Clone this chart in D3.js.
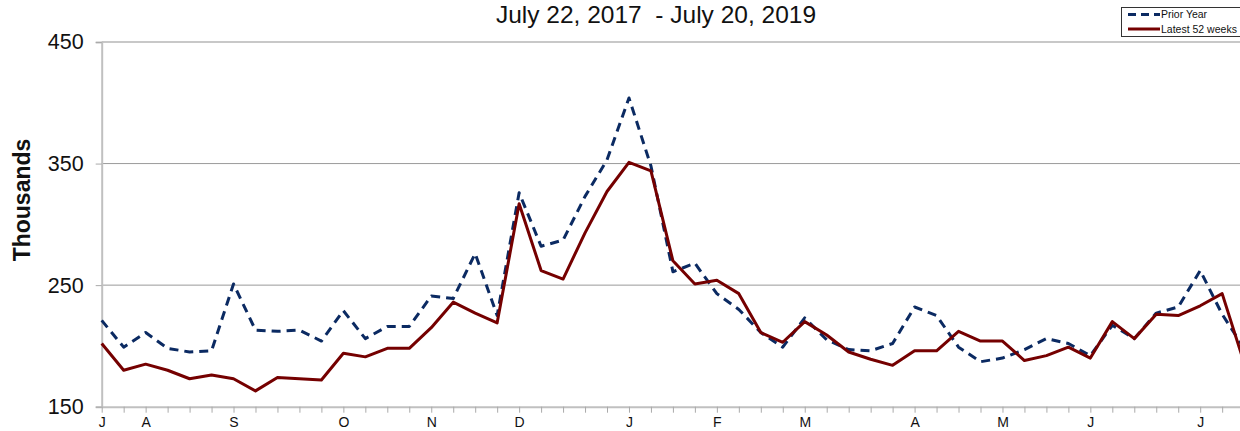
<!DOCTYPE html>
<html>
<head>
<meta charset="utf-8">
<script src="https://cdn.jsdelivr.net/npm/d3@7"></script>
<style>
  body { margin: 0; background: #fff; }
  svg { display: block; font-family: "Liberation Sans", Arial, sans-serif; }
</style>
</head>
<body>
<svg id="chart"></svg>
<script>
let width = 1240;
let height = 431;

// weekly values, thousands
let weekLabels = ["J","","A","","","","S","","","","","O","","","","N","","","","D","","","","","J","","","","F","","","","M","","","","","A","","","","M","","","","J","","","","","J","",""];
let priorYear = [221,199,211,198,195,196,251,213,212,213,204,229,206,216,216,241,239,276,225,326,282,287,323,353,404,348,261,268,243,230,211,199,223,205,197,196,202,232,225,199,187,190,197,206,202,192,217,206,227,232,262,226,198];
let latest52 = [202,180,185,180,173,176,173,163,174,173,172,194,191,198,198,215,236,227,219,317,262,255,293,327,351,344,270,251,254,243,211,203,220,209,195,189,184,196,196,212,204,204,188,192,199,190,220,206,226,225,233,243,186];
let yTicks = [150, 250, 350, 450];

let margin = { top: 42, bottom: 24, left: 101.7 };

let svg = d3.select("#chart")
  .attr("width", width)
  .attr("height", height);

let x = d3.scaleLinear()
  .domain([0, weekLabels.length - 1])
  .range([margin.left, margin.left + 21.97 * (weekLabels.length - 1)]);

let y = d3.scaleLinear()
  .domain([150, 450])
  .range([height - margin.bottom - 0.3, margin.top]);

// gridlines
svg.append("g")
  .selectAll("line")
  .data(yTicks.slice(1))
  .enter()
  .append("line")
    .attr("x1", margin.left)
    .attr("x2", width)
    .attr("y1", d => y(d))
    .attr("y2", d => y(d))
    .attr("stroke", d => d === 450 ? "#c8c8c8" : "#9a9a9a")
    .attr("stroke-width", d => d === 450 ? 2 : 1);

// y axis
svg.append("g")
  .attr("transform", `translate(${margin.left},0)`)
  .call(d3.axisLeft(y).tickValues(yTicks).tickSize(6).tickPadding(12))
  .call(g => g.select(".domain").attr("stroke", "#c0c0c0").attr("stroke-width", 2))
  .call(g => g.selectAll(".tick line").attr("stroke", "#aaa"))
  .call(g => g.selectAll(".tick text")
    .attr("font-size", 21.5)
    .attr("fill", "#111")
    .attr("font-family", "Liberation Sans, Arial, sans-serif"));

// x axis
svg.append("g")
  .attr("transform", `translate(0,${y(150)})`)
  .call(d3.axisBottom(x).tickValues(d3.range(weekLabels.length)).tickFormat(i => weekLabels[i]).tickSize(6).tickSizeOuter(0).tickPadding(4))
  .call(g => g.select(".domain").attr("stroke", "#c0c0c0").attr("stroke-width", 2))
  .call(g => g.selectAll(".tick line").attr("stroke", "#aaa"))
  .call(g => g.selectAll(".tick text")
    .attr("font-size", 14)
    .attr("fill", "#111")
    .attr("font-family", "Liberation Sans, Arial, sans-serif"));

let line = d3.line()
  .x((d, i) => x(i))
  .y(d => y(d));

svg.append("path")
  .datum(priorYear)
  .attr("fill", "none")
  .attr("stroke", "#0b2a62")
  .attr("stroke-width", 3)
  .attr("stroke-dasharray", "9,6")
  .attr("stroke-linejoin", "round")
  .attr("d", line);

svg.append("path")
  .datum(latest52)
  .attr("fill", "none")
  .attr("stroke", "#750000")
  .attr("stroke-width", 3)
  .attr("stroke-linejoin", "round")
  .attr("d", line);

// title
svg.append("text")
  .attr("x", 656)
  .attr("y", 23)
  .attr("text-anchor", "middle")
  .attr("font-size", 24.5)
  .attr("fill", "#111")
  .attr("xml:space", "preserve")
  .text("July 22, 2017  - July 20, 2019");

// y label
svg.append("text")
  .attr("transform", "translate(30,200) rotate(-90)")
  .attr("text-anchor", "middle")
  .attr("font-size", 23)
  .attr("font-weight", "bold")
  .attr("fill", "#111")
  .text("Thousands");

// legend
let legend = svg.append("g").attr("transform", "translate(1121,7)");
legend.append("rect")
  .attr("x", 0.5).attr("y", 0.5)
  .attr("width", 130).attr("height", 29)
  .attr("fill", "#fff")
  .attr("stroke", "#333")
  .attr("stroke-width", 1);

let legendItems = [
  { name: "Prior Year", color: "#0b2a62", dash: "8,5" },
  { name: "Latest 52 weeks", color: "#750000", dash: null }
];

legendItems.forEach((item, i) => {
  let row = legend.append("g").attr("transform", `translate(0,${7.5 + i * 14.5})`);
  row.append("line")
    .attr("x1", 7).attr("x2", 39)
    .attr("stroke", item.color)
    .attr("stroke-width", 3)
    .attr("stroke-dasharray", item.dash);
  row.append("text")
    .attr("x", 40).attr("y", 3.8)
    .attr("font-size", 10.5)
    .attr("fill", "#111")
    .text(item.name);
});
</script>
</body>
</html>
